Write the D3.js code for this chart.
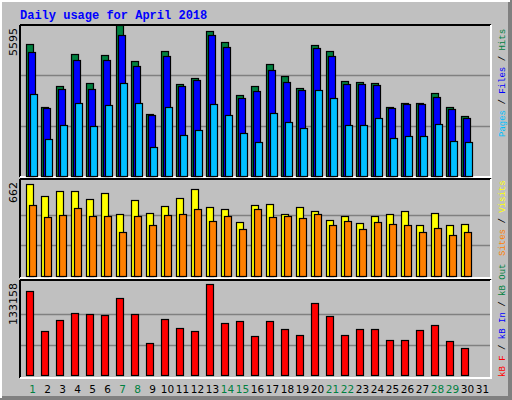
<!DOCTYPE html>
<html><head><meta charset="utf-8">
<script src="https://cdn.jsdelivr.net/npm/d3@7"></script>
<style>body{margin:0;background:#fff}svg{display:block}</style>
</head><body>
<script>
const days = d3.range(1, 32);
const weekendDays = [1, 7, 8, 14, 15, 21, 22, 28, 29];
const hits = [4891,2557,3335,4520,3446,4483,5595,4261,2297,4631,3409,3631,5372,4965,3001,3335,4150,3705,3260,4854,4631,3520,3483,3446,2557,2705,2705,3075,2557,2223,0];
const files = [4594,2519,3223,4298,3223,4298,5224,4076,2260,4446,3335,3557,5224,4779,2890,3149,3927,3483,3186,4742,4446,3409,3409,3372,2519,2668,2668,2927,2482,2149,0];
const pages = [3038,1371,1890,2705,1853,2631,3446,2705,1074,2557,1519,1704,2668,2260,1593,1260,2334,2001,1778,3186,2890,1890,1890,2149,1408,1482,1482,1927,1297,1260,0];
const visits = [662,576,612,612,554,597,446,547,453,504,561,626,497,482,389,511,518,446,497,468,403,432,381,432,446,468,367,453,367,374,0];
const sites = [511,425,439,489,432,432,317,432,367,439,446,482,396,432,338,482,425,432,417,446,367,396,338,389,374,367,317,345,295,317,0];
const kbytes = [122917,64385,80482,90725,89261,87798,112674,89261,46826,81945,68775,64385,133158,76092,79018,57069,79018,67312,58532,105358,86335,58532,67312,67312,51216,51216,65849,73165,49752,39509,0];
const maxLabels = ["5595", "662", "133158"];

const W = 512, H = 400;
const svg = d3.select("body").append("svg").attr("width", W).attr("height", H);
svg.append("rect").attr("width", W).attr("height", H).attr("fill", "#808080");
svg.append("rect").attr("width", W - 2).attr("height", H - 2).attr("fill", "#ffffff");
svg.append("rect").attr("x", 2).attr("y", 2).attr("width", W - 6).attr("height", H - 6).attr("fill", "#c0c0c0");
svg.append("rect").attr("x", W - 4).attr("y", 2).attr("width", 2).attr("height", H - 4).attr("fill", "#808080");
svg.append("rect").attr("x", 2).attr("y", H - 4).attr("width", W - 4).attr("height", 2).attr("fill", "#808080");

svg.append("text").attr("x", 20).attr("y", 19).text("Daily usage for April 2018")
  .attr("font-family", "Liberation Mono, DejaVu Sans Mono, monospace").attr("font-weight", "bold")
  .attr("font-size", 12).attr("fill", "#0000ff");

const x = d3.scaleBand().domain(days).range([20, 485]).paddingInner(0);

const panels = [
  {top: 25, bottom: 177, y0: 176, y1: 25, max: 5595, series: [[hits, "#008040", 1], [files, "#0000ff", 3], [pages, "#00c0ff", 5]]},
  {top: 179, bottom: 278, y0: 276, y1: 184, max: 662, series: [[visits, "#ffff00", 1], [sites, "#ff8000", 4]]},
  {top: 280, bottom: 378, y0: 375, y1: 284, max: 133158, series: [[kbytes, "#ff0000", 1]]}
];

panels.forEach((p, i) => {
  const g = svg.append("g");
  g.append("line").attr("x1", 20).attr("x2", 491).attr("y1", p.top).attr("y2", p.top).attr("stroke", "#000").attr("stroke-width", 2);
  g.append("line").attr("x1", 20).attr("x2", 20).attr("y1", p.top).attr("y2", p.bottom).attr("stroke", "#000").attr("stroke-width", 2);
  g.append("line").attr("x1", 20).attr("x2", 492).attr("y1", p.bottom).attr("y2", p.bottom).attr("stroke", "#fff").attr("stroke-width", 2);
  g.append("line").attr("x1", 491).attr("x2", 491).attr("y1", p.top).attr("y2", p.bottom).attr("stroke", "#fff").attr("stroke-width", 2);
  const y = d3.scaleLinear().domain([0, p.max]).range([p.y0, p.y1]);
  [p.max / 3, p.max * 2 / 3].forEach(v => {
    g.append("line").attr("x1", 21).attr("x2", 490).attr("y1", Math.round(y(v)) + 0.5).attr("y2", Math.round(y(v)) + 0.5)
      .attr("stroke", "#808080").attr("stroke-width", 1.5);
  });
  p.series.forEach(([vals, col, off]) => {
    g.selectAll(null).data(days.filter((d, k) => vals[k] > 0)).enter().append("rect")
      .attr("x", d => x(d) + off + 5.5).attr("width", 7)
      .attr("y", d => Math.round(y(vals[d - 1])) + 0.5)
      .attr("height", d => p.y0 - Math.round(y(vals[d - 1])))
      .attr("fill", col).attr("stroke", "#000").attr("stroke-width", 1.2);
  });
  g.append("text").attr("transform", `translate(17,${p.top + 3}) rotate(-90)`).attr("text-anchor", "end")
    .attr("font-family", "DejaVu Sans, sans-serif").attr("font-size", 11).attr("fill", "#000").text(maxLabels[i]);
});

svg.selectAll(".xl").data(days).enter().append("text")
  .attr("x", d => x(d) + x.bandwidth() / 2 + 5).attr("y", 393).attr("text-anchor", "middle")
  .attr("font-family", "DejaVu Sans, sans-serif").attr("font-size", 10.5)
  .attr("fill", d => weekendDays.includes(d) ? "#008040" : "#000").text(d => d);

const legend = [
  {y: 137, parts: [["Pages", "#00c0ff"], [" / ", "#000"], ["Files", "#0000ff"], [" / ", "#000"], ["Hits", "#008040"]]},
  {y: 256, parts: [["Sites", "#ff8000"], [" / ", "#000"], ["Visits", "#ffff00"]]},
  {y: 377, parts: [["kB F", "#ff0000"], [" / ", "#000"], ["kB In", "#0000ff"], [" / ", "#000"], ["kB Out", "#008040"]]}
];
legend.forEach(l => {
  const t = svg.append("text").attr("transform", `translate(505,${l.y}) rotate(-90)`)
    .attr("font-family", "Liberation Mono, DejaVu Sans Mono, monospace").attr("font-size", 9);
  l.parts.forEach(([s, c]) => t.append("tspan").attr("fill", c).attr("xml:space", "preserve").text(s));
});
</script>
</body></html>
